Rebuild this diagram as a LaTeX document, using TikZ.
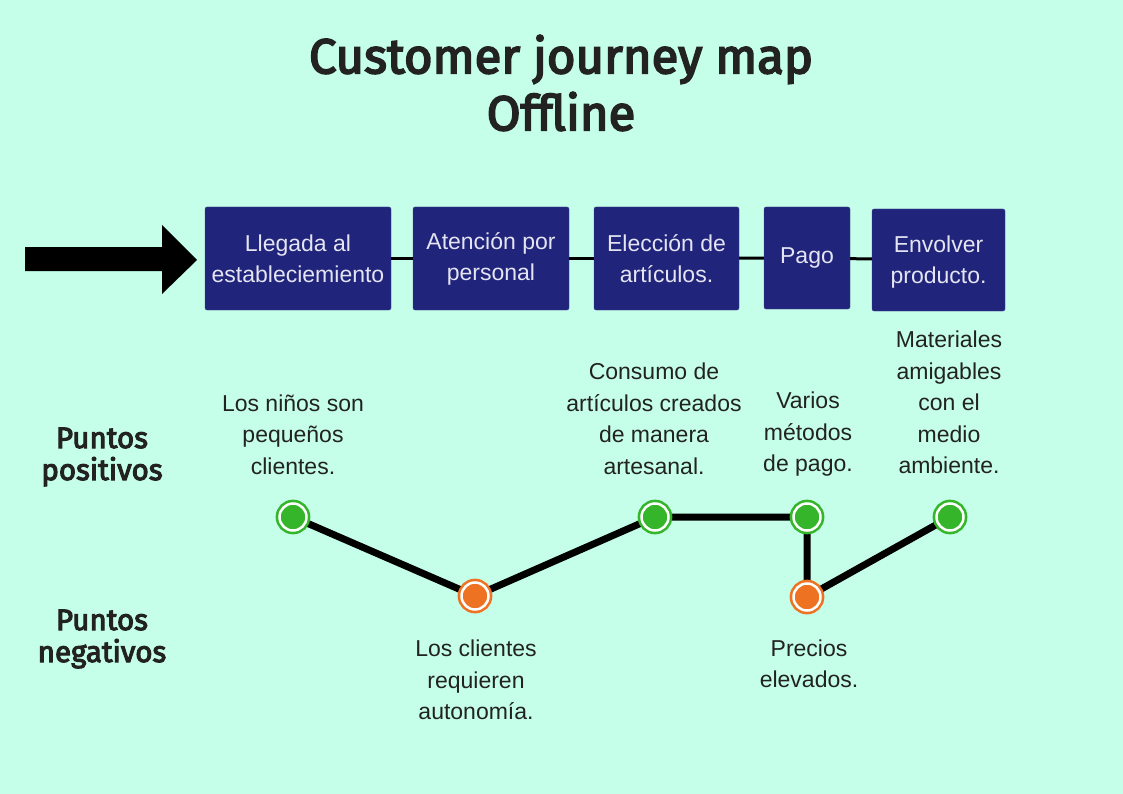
\documentclass[tikz,border=0pt]{standalone}
\usepackage{fontspec}
\setmainfont{Liberation Sans}
\newfontfamily\titlefont{Fira Sans}[FakeBold=3.6]
\usetikzlibrary{backgrounds}
\definecolor{mint}{RGB}{197,255,233}
\definecolor{navy}{RGB}{32,36,122}
\definecolor{boxtext}{RGB}{228,228,242}
\definecolor{okgreen}{RGB}{52,181,42}
\definecolor{badorange}{RGB}{237,115,34}
\definecolor{ink}{RGB}{34,34,34}
\tikzset{
  stage/.style={fill=navy, draw=navy!85!white, rounded corners=2pt, text=boxtext, align=center,
    inner sep=0pt, font=\fontsize{23}{31}\selectfont},
  note/.style={align=center, text=ink, inner sep=0pt, font=\fontsize{23}{31.5}\selectfont},
  side/.style={align=center, text=ink, inner sep=0pt, font=\titlefont\fontsize{29.5}{32}\selectfont},
  dot/.style={circle, inner sep=0pt, minimum size=27pt, line width=2.6pt, double=white, double distance=2.5pt},
  good/.style={dot, draw=okgreen, fill=okgreen},
  bad/.style={dot, draw=badorange, fill=badorange},
  link/.style={line width=3pt, black},
  trail/.style={line width=7pt, black}
}
\begin{document}
\begin{tikzpicture}[x=1pt,y=-1pt]
  \begin{scope}[on background layer]
    \fill[mint] (0,0) rectangle (1123,794);
  \end{scope}
  \useasboundingbox (0,0) rectangle (1123,794);

  \node[text=ink, align=center, font=\titlefont\fontsize{49}{57}\selectfont] (title) at (561,83) {Customer journey map\\Offline};

  \fill[black] (25,247) -- (162,247) -- (162,225) -- (197,260) -- (162,294) -- (162,271) -- (25,271) -- cycle;

  \node[stage, minimum width=186pt, minimum height=103pt] (llegada) at (298,258.5) {Llegada al\\estableciemiento};
  \node[stage, minimum width=156pt, minimum height=103pt] (atencion) at (491,258.5) {Atención por\\personal};
  \node[stage, minimum width=145pt, minimum height=103pt] (eleccion) at (666.5,258.5) {Elección de\\artículos.};
  \node[stage, minimum width=86pt, minimum height=102pt] (pago) at (807,258) {Pago};
  \node[stage, minimum width=133pt, minimum height=102pt] (envolver) at (938.5,260) {Envolver\\\raisebox{0pt}[\height][0pt]{producto.}};
  \draw[link] (llegada) -- (atencion);
  \draw[link] (atencion) -- (eleccion);
  \draw[link] (eleccion) -- (pago);
  \draw[link] (pago) -- (envolver);

  \node[side] (positivos) at (102,457) {Puntos\\positivos};
  \node[side] (negativos) at (102,639) {Puntos\\negativos};

  \node[note] (ninos) at (293,434.5) {Los niños son\\pequeños\\clientes.};
  \node[note] (consumo) at (654,419) {Consumo de\\artículos creados\\de manera\\artesanal.};
  \node[note] (metodos) at (808,434.5) {Varios\\métodos\\de pago.};
  \node[note] (materiales) at (949,402.5) {Materiales\\amigables\\con el\\medio\\ambiente.};
  \node[note] (autonomia) at (476,680) {Los clientes\\requieren\\autonomía.};
  \node[note] (precios) at (809,664) {Precios\\elevados.};

  \node[good] (g1) at (293,517) {};
  \node[bad] (o1) at (475,596) {};
  \node[good] (g2) at (655,517) {};
  \node[good] (g3) at (807,517) {};
  \node[bad] (o2) at (807,597) {};
  \node[good] (g4) at (950,517) {};
  \begin{scope}[on background layer]
    \draw[trail] (g1.center) -- (o1.center) -- (g2.center) -- (g3.center) -- (o2.center) -- (g4.center);
  \end{scope}
\end{tikzpicture}
\end{document}
